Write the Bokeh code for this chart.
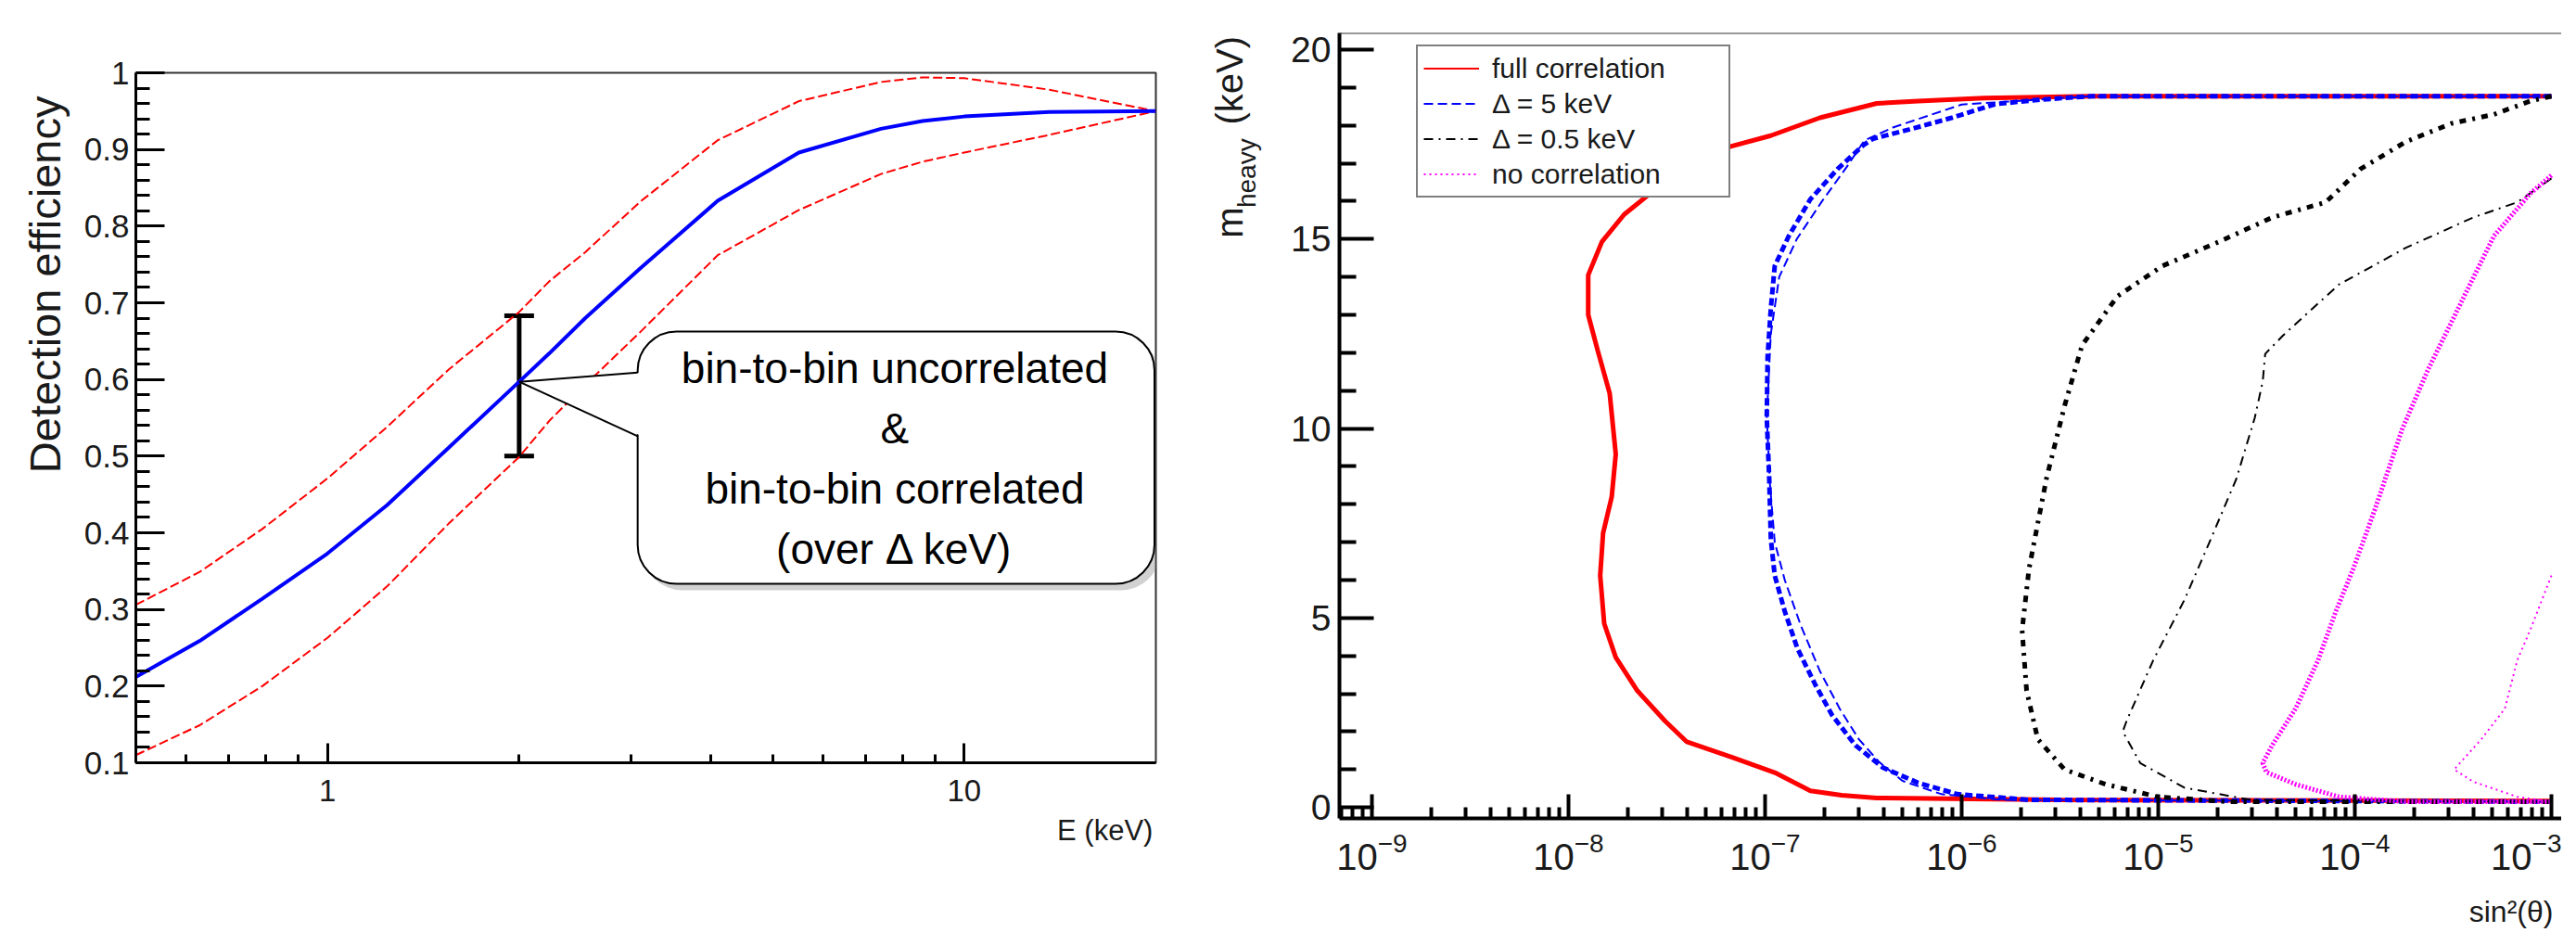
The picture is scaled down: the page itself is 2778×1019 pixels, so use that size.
from bokeh.plotting import figure
from bokeh.layouts import row
from bokeh.models import (FixedTicker, Label, Legend, LegendItem, Span, Whisker,
                          TeeHead, ColumnDataSource, NumeralTickFormatter, LinearAxis)
from bokeh.embed import file_html
from bokeh.resources import INLINE

FONT = "Liberation Sans"
NB = "\u00a0"

# ---------------- left panel data ----------------
energy_kev = [0.5, 0.63, 0.79, 1.0, 1.24, 1.55, 2.0, 2.23, 2.54, 3.1, 4.1, 5.5, 7.4, 8.6, 10.0, 13.6, 20.0]
eff_central = [0.212, 0.259, 0.314, 0.373, 0.436, 0.511, 0.597, 0.634, 0.680, 0.745, 0.833, 0.896, 0.927, 0.937, 0.943, 0.949, 0.950]
eff_upper = [0.306, 0.349, 0.405, 0.471, 0.538, 0.613, 0.688, 0.728, 0.766, 0.832, 0.912, 0.963, 0.988, 0.994, 0.993, 0.978, 0.950]
eff_lower = [0.110, 0.149, 0.200, 0.263, 0.330, 0.412, 0.499, 0.546, 0.593, 0.662, 0.762, 0.821, 0.868, 0.884, 0.896, 0.919, 0.950]

err_energy = [2.0]
err_low = [0.50]
err_high = [0.683]

callout_lines = ["bin-to-bin uncorrelated", "&", "bin-to-bin correlated", "(over \u0394 keV)"]

left_x_ticks = [1, 10]
left_x_tick_labels = ["1", "10"]
left_x_minor = [0.6, 0.7, 0.8, 0.9, 2, 3, 4, 5, 6, 7, 8, 9]
left_y_ticks = [0.1, 0.2, 0.3, 0.4, 0.5, 0.6, 0.7, 0.8, 0.9, 1.0]
left_y_tick_labels = ["0.1", "0.2", "0.3", "0.4", "0.5", "0.6", "0.7", "0.8", "0.9", "1"]

# ---------------- right panel data ----------------
full_corr_x = [1.0e-3, 4.6e-6, 1.3e-6, 6.0e-7, 3.7e-7, 1.9e-7, 1.07e-7, 6.3e-8, 2.6e-8, 1.92e-8, 1.48e-8,
               1.26e-8, 1.26e-8, 1.41e-8, 1.62e-8, 1.74e-8, 1.66e-8, 1.50e-8, 1.45e-8, 1.52e-8, 1.74e-8,
               2.24e-8, 3.1e-8, 4.0e-8, 6.8e-8, 1.12e-7, 1.7e-7, 2.45e-7, 3.7e-7, 3.2e-6, 1.0e-3]
full_corr_m = [18.77, 18.77, 18.72, 18.64, 18.58, 18.2, 17.73, 17.41, 16.2, 15.65, 14.93,
               14.05, 13.0, 12.05, 10.93, 9.32, 8.2, 7.24, 6.12, 4.85, 3.96,
               3.08, 2.28, 1.73, 1.32, 0.92, 0.44, 0.32, 0.25, 0.2, 0.17]

d5_thick_x = [1.0e-3, 4.6e-6, 2.5e-6, 1.48e-6, 8.9e-7, 5.4e-7, 3.55e-7, 3.18e-7, 2.34e-7, 1.70e-7, 1.32e-7,
              1.12e-7, 1.07e-7, 1.03e-7, 1.02e-7, 1.05e-7, 1.07e-7, 1.12e-7, 1.26e-7, 1.46e-7, 1.80e-7,
              2.19e-7, 2.88e-7, 3.98e-7, 6.0e-7, 9.5e-7, 2.2e-6, 1.0e-3]
d5_thick_m = [18.77, 18.77, 18.68, 18.56, 18.2, 17.89, 17.65, 17.49, 16.85, 16.05, 15.08,
              14.29, 13.17, 11.89, 10.29, 8.68, 7.08, 6.12, 5.17, 4.2, 3.24,
              2.44, 1.64, 1.05, 0.65, 0.35, 0.2, 0.15]
d5_thin_x = [1.0e-3, 4.6e-6, 1.0e-6, 4.5e-7, 3.2e-7, 2.6e-7, 1.95e-7, 1.45e-7, 1.18e-7, 1.07e-7, 1.02e-7,
             1.06e-7, 1.12e-7, 1.26e-7, 1.52e-7, 1.9e-7, 2.4e-7, 3.0e-7, 3.8e-7, 5.0e-7, 7.9e-7, 1.6e-6, 1.0e-3]
d5_thin_m = [18.77, 18.77, 18.55, 17.95, 17.6, 16.9, 16.0, 15.0, 14.0, 12.5, 10.3,
             8.5, 7.0, 6.0, 4.8, 3.6, 2.6, 1.8, 1.2, 0.7, 0.35, 0.2, 0.15]

d05_thick_x = [1.0e-3, 7.8e-4, 5.1e-4, 3.1e-4, 1.82e-4, 1.07e-4, 7.1e-5, 3.8e-5, 2.04e-5, 1.05e-5, 6.2e-6,
               4.1e-6, 3.34e-6, 2.7e-6, 2.2e-6, 2.03e-6, 2.14e-6, 2.44e-6, 3.34e-6, 5.4e-6, 9.9e-6, 2.3e-5, 1.0e-3]
d05_thick_m = [18.77, 18.64, 18.29, 18.05, 17.57, 16.85, 15.97, 15.57, 14.93, 14.29, 13.49,
               12.2, 10.6, 8.68, 6.29, 4.68, 3.08, 1.8, 1.0, 0.61, 0.28, 0.15, 0.15]
d05_thin_x = [1.0e-3, 6.7e-4, 4.0e-4, 1.82e-4, 8.3e-5, 4.3e-5, 3.5e-5, 3.4e-5, 3.1e-5, 2.5e-5, 1.85e-5,
              1.36e-5, 9.4e-6, 6.9e-6, 6.6e-6, 8.1e-6, 1.36e-5, 2.95e-5, 1.0e-3]
d05_thin_m = [16.6, 15.97, 15.57, 14.77, 13.8, 12.45, 11.97, 11.24, 10.29, 8.68, 7.08,
              5.48, 3.87, 2.28, 2.0, 1.17, 0.52, 0.2, 0.15]

nocorr_thick_x = [1.0e-3, 7.8e-4, 5.1e-4, 3.6e-4, 2.36e-4, 1.74e-4, 1.27e-4, 9.8e-5, 8.0e-5, 6.5e-5, 5.0e-5,
                  3.8e-5, 3.4e-5, 3.55e-5, 5.0e-5, 8.3e-5, 1.82e-4, 1.0e-3]
nocorr_thick_m = [16.68, 16.2, 15.08, 13.49, 11.56, 9.98, 7.89, 6.29, 5.17, 3.88, 2.61,
                  1.64, 1.17, 0.93, 0.61, 0.28, 0.15, 0.15]
nocorr_thin_x = [1.0e-3, 7.8e-4, 6.7e-4, 5.8e-4, 4.4e-4, 3.2e-4, 4.0e-4, 6.7e-4, 1.0e-3]
nocorr_thin_m = [6.12, 4.68, 3.88, 2.61, 1.8, 1.0, 0.68, 0.28, 0.15]

legend_labels = ["full correlation", "\u0394 = 5 keV", "\u0394 = 0.5 keV", "no correlation"]

right_x_ticks = [1e-9, 1e-8, 1e-7, 1e-6, 1e-5, 1e-4, 1e-3]
right_x_minor = [k * 10.0 ** e for e in range(-10, -2) for k in range(2, 10)]
right_y_ticks = [0, 5, 10, 15, 20]
right_y_tick_labels = ["0", "5", "10", "15", "20"]
right_y_minor = [i for i in range(0, 21) if i % 5]


def style_axis(ax, lw, major_in, minor_in, size, standoff):
    ax.axis_line_width = lw
    ax.axis_line_color = "black"
    ax.major_tick_line_width = lw
    ax.minor_tick_line_width = lw
    ax.major_tick_line_color = "black"
    ax.minor_tick_line_color = "black"
    ax.major_tick_in = major_in
    ax.major_tick_out = 0
    ax.minor_tick_in = minor_in
    ax.minor_tick_out = 0
    ax.major_label_text_font = FONT
    ax.major_label_text_font_size = size
    ax.major_label_text_color = "#1a1a1a"
    ax.major_label_standoff = standoff


def style_title(ax, text, size, standoff, pad=0):
    # axis titles are centred by Bokeh; leading no-break spaces push the visible
    # words towards the end of the axis, as in the ROOT original
    ax.axis_label = NB * pad + text
    ax.axis_label_text_font = FONT
    ax.axis_label_text_font_size = size
    ax.axis_label_text_font_style = "normal"
    ax.axis_label_text_color = "#1a1a1a"
    ax.axis_label_standoff = standoff


# ======================= LEFT FIGURE =======================
p1 = figure(width=1282, height=1003, x_axis_type="log", x_range=(0.5, 20), y_range=(0.1, 1.0),
            output_backend="svg", toolbar_location=None, frame_align=False,
            min_border_left=146, min_border_right=36, min_border_top=78, min_border_bottom=181)
p1.grid.visible = False
p1.outline_line_color = "#333333"
p1.outline_line_width = 2
p1.background_fill_color = "white"
p1.border_fill_color = "white"

p1.xaxis.ticker = FixedTicker(ticks=left_x_ticks, minor_ticks=left_x_minor)
p1.xaxis.formatter = NumeralTickFormatter(format="0")
p1.xaxis.major_label_overrides = {float(t): l for t, l in zip(left_x_ticks, left_x_tick_labels)}
p1.yaxis.ticker = FixedTicker(ticks=left_y_ticks,
                              minor_ticks=[round(0.1 + 0.02 * i, 2) for i in range(46) if i % 5])
p1.yaxis.formatter = NumeralTickFormatter(format="0.[0]")
p1.yaxis.major_label_overrides = {float(t): l for t, l in zip(left_y_ticks, left_y_tick_labels)}
style_axis(p1.xaxis[0], 3, 21, 9, "33px", 18)
style_axis(p1.yaxis[0], 3, 31, 15, "35px", 7)
style_title(p1.yaxis[0], "Detection efficiency", "47px", 13, pad=22)
style_title(p1.xaxis[0], "E (keV)", "31px", 11, pad=115)

p1.line(energy_kev, eff_upper, line_color="#ff0000", line_width=2, line_dash="10 4")
p1.line(energy_kev, eff_lower, line_color="#ff0000", line_width=2, line_dash="10 4")
p1.line(energy_kev, eff_central, line_color="#0000ff", line_width=4)

err_src = ColumnDataSource(dict(base=err_energy, lower=err_low, upper=err_high))
p1.add_layout(Whisker(base="base", lower="lower", upper="upper", source=err_src,
                      line_width=5, line_color="black",
                      upper_head=TeeHead(size=32, line_width=5, line_color="black"),
                      lower_head=TeeHead(size=32, line_width=5, line_color="black")))

# callout box (annotation geometry)
box_l, box_r, box_t, box_b = 3.07, 19.9, 0.6625, 0.3335
tip_x = err_energy[0]
tip_y = eff_central[energy_kev.index(err_energy[0])]
ptr_top, ptr_bot = 0.609, 0.526
sx = 10 ** (6 / 684.5)
sy = 7 / 826.7
p1.quad(left=[box_l * sx], right=[box_r * sx], top=[box_t - sy], bottom=[box_b - sy],
        fill_color="#9a9a9a", fill_alpha=0.45, line_color=None, border_radius=42)
p1.quad(left=[box_l], right=[box_r], top=[box_t], bottom=[box_b],
        fill_color="white", line_color="black", line_width=2, border_radius=42)
p1.patch([tip_x, box_l * 1.015, box_l * 1.015], [tip_y, ptr_top, ptr_bot],
         fill_color="white", line_color=None)
p1.segment(x0=[tip_x, tip_x], y0=[tip_y, tip_y], x1=[box_l, box_l], y1=[ptr_top, ptr_bot],
           line_color="black", line_width=2)
p1.add_layout(Label(x=7.78, y=0.497, text="\n".join(callout_lines), text_align="center",
                    text_baseline="middle", text_font=FONT, text_font_size="46px",
                    text_line_height=1.25, text_color="black"))

# ======================= RIGHT FIGURE =======================
y_top = 20.44
p2 = figure(width=1480, height=1003, x_axis_type="log", x_range=(6.84e-10, 1.127e-3),
            y_range=(-0.29, y_top), output_backend="svg", toolbar_location=None, frame_align=False,
            min_border_left=162, min_border_right=0, min_border_top=35, min_border_bottom=118)
p2.grid.visible = False
p2.outline_line_color = None
p2.background_fill_color = "white"
p2.border_fill_color = "white"
p2.add_layout(Span(location=y_top, dimension="width", line_color="#333333", line_width=2))

p2.xaxis.ticker = FixedTicker(ticks=right_x_ticks, minor_ticks=right_x_minor)
p2.yaxis.ticker = FixedTicker(ticks=right_y_ticks, minor_ticks=right_y_minor)
p2.yaxis.formatter = NumeralTickFormatter(format="0")
p2.yaxis.major_label_overrides = {float(t): l for t, l in zip(right_y_ticks, right_y_tick_labels)}
style_axis(p2.xaxis[0], 4, 26, 12, "40px", 14)
style_axis(p2.yaxis[0], 4, 37, 18, "39px", 9)
style_title(p2.xaxis[0], "sin\u00b2(\u03b8)", "32px", 24, pad=136)
# subscript part of the y title sits on the inner axis, main part on an extra outer axis
style_title(p2.yaxis[0], "heavy", "28px", 29, pad=70)
title_axis = LinearAxis(ticker=FixedTicker(ticks=[]), axis_line_color=None,
                        major_tick_line_color=None, minor_tick_line_color=None,
                        major_tick_out=0, minor_tick_out=0, major_label_standoff=0)
style_title(title_axis, "m" + NB * 8 + "(keV)", "40px", -21, pad=56)
p2.add_layout(title_axis, "left")

r_red_thin = p2.line(full_corr_x, full_corr_m, line_color="#ff0000", line_width=2)
p2.line(full_corr_x, full_corr_m, line_color="#ff0000", line_width=5)
p2.line(d5_thick_x, d5_thick_m, line_color="#0000ff", line_width=5, line_dash="8 4")
r_blue_thin = p2.line(d5_thin_x, d5_thin_m, line_color="#0000ff", line_width=2, line_dash="10 5")
p2.line(d05_thick_x, d05_thick_m, line_color="black", line_width=5, line_dash="7 7 3 7")
r_black_thin = p2.line(d05_thin_x, d05_thin_m, line_color="black", line_width=2, line_dash="10 6 2 6")
p2.line(nocorr_thick_x, nocorr_thick_m, line_color="#ff00ff", line_width=5, line_dash="2 2")
r_mag_thin = p2.line(nocorr_thin_x, nocorr_thin_m, line_color="#ff00ff", line_width=2, line_dash="2 4")

legend = Legend(items=[LegendItem(label=lab, renderers=[r]) for lab, r in
                       zip(legend_labels, [r_red_thin, r_blue_thin, r_black_thin, r_mag_thin])],
                location=(83, 669), margin=0, padding=6, spacing=3,
                glyph_width=60, glyph_height=35, label_height=35, label_width=249, label_standoff=14,
                label_text_font=FONT, label_text_font_size="30px", label_text_color="#1a1a1a",
                border_line_color="black", border_line_width=2,
                background_fill_color="white", background_fill_alpha=1.0)
p2.add_layout(legend)

layout = row(p1, p2)
open("out.html", "w").write(file_html(layout, INLINE))
